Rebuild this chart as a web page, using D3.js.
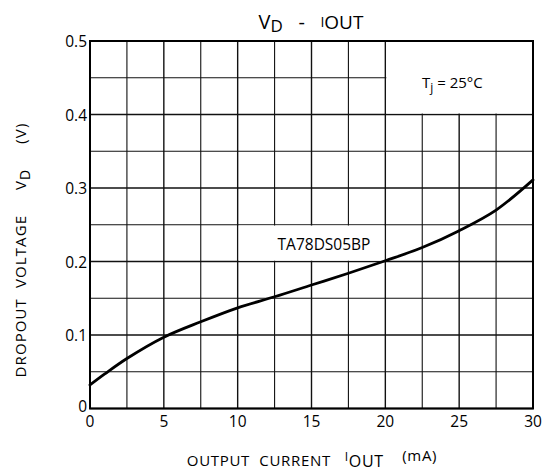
<!DOCTYPE html>
<html><head><meta charset="utf-8">
<script src="https://cdn.jsdelivr.net/npm/d3@7"></script>
<style>
html,body{margin:0;padding:0;background:#fff;}
svg{display:block;font-family:"Open Sans","DejaVu Sans",sans-serif;}
</style></head>
<body>
<svg id="c" width="548" height="475"></svg>
<script>
// ---- data ----
const currentMA = [0, 1, 2.5, 5, 7.5, 10, 12.5, 15, 17.5, 20, 22.5, 25, 27.5, 30];
const dropoutV  = [0.032, 0.047, 0.068, 0.097, 0.118, 0.137, 0.152, 0.168, 0.184, 0.201, 0.219, 0.242, 0.27, 0.311];
const xTicks = [0, 5, 10, 15, 20, 25, 30];
const yTicks = [0, 0.1, 0.2, 0.3, 0.4, 0.5];
const yTickLabels = ["0", "0.1", "0.2", "0.3", "0.4", "0.5"];
const xGrid = d3.range(0, 30.01, 2.5);
const yGrid = d3.range(0, 0.501, 0.05);
const seriesName = "TA78DS05BP";
const condition = "= 25°C";

const svg = d3.select("#c");
const L = 90, R = 533, T = 41, B = 408.5;
const x = d3.scaleLinear().domain([0, 30]).range([L, R]);
const y = d3.scaleLinear().domain([0, 0.5]).range([B, T]);

const g = svg.append("g");
// grid
g.selectAll("line.v").data(xGrid).enter().append("line")
  .attr("x1", d => x(d)).attr("x2", d => x(d)).attr("y1", T).attr("y2", B)
  .attr("stroke", "#111").attr("stroke-width", d => (d % 5 === 0) ? 1.4 : 1.1);
g.selectAll("line.h").data(yGrid).enter().append("line")
  .attr("y1", d => y(d)).attr("y2", d => y(d)).attr("x1", L).attr("x2", R)
  .attr("stroke", "#111").attr("stroke-width", d => (Math.round(d * 100) % 10 === 0) ? 1.4 : 1.1);

// blank cells (label cell and condition box)
g.append("rect").attr("x", x(10) + 1).attr("y", y(0.25) + 0.8)
  .attr("width", x(20) - x(10) - 2).attr("height", y(0.2) - y(0.25) - 1.6).attr("fill", "#fff");
g.append("rect").attr("x", x(20) + 1).attr("y", y(0.5) + 1)
  .attr("width", x(30) - x(20) - 2).attr("height", y(0.4) - y(0.5) - 2).attr("fill", "#fff");

// frame
g.append("rect").attr("x", L).attr("y", T).attr("width", R - L).attr("height", B - T)
  .attr("fill", "none").attr("stroke", "#000").attr("stroke-width", 2);

// curve
const line = d3.line().x(d => x(d[0])).y(d => y(d[1])).curve(d3.curveCatmullRom.alpha(0.5));
g.append("path").datum(currentMA.map((c, i) => [c, dropoutV[i]]))
  .attr("d", line).attr("fill", "none").attr("stroke", "#000").attr("stroke-width", 2.8)
  .attr("stroke-linecap", "round");

// tick labels
svg.selectAll("text.yt").data(yTicks).enter().append("text")
  .attr("x", 87).attr("y", d => d === 0 ? 412 : y(d) + 6)
  .attr("text-anchor", "end").attr("font-size", 15.5).attr("fill", "#000")
  .text((d, i) => yTickLabels[i]);
svg.selectAll("text.xt").data(xTicks).enter().append("text")
  .attr("x", d => x(d)).attr("y", 427)
  .attr("text-anchor", "middle").attr("font-size", 15.5).attr("fill", "#000")
  .text(d => d);

// series label
svg.append("text").attr("x", 324).attr("y", 250)
  .attr("text-anchor", "middle").attr("font-size", 15.5).text(seriesName);

// condition
const tj = svg.append("text").attr("x", 422).attr("y", 88).attr("font-size", 15).attr("fill", "#000");
tj.append("tspan").text("T");
tj.append("tspan").attr("font-size", 12).attr("dy", 4).text("j");
tj.append("tspan").attr("dy", -4).text(" " + condition);

// title
const title = svg.append("text").attr("x", 311).attr("y", 29).attr("text-anchor", "middle")
  .attr("font-size", 20).attr("fill", "#000").attr("xml:space", "preserve");
title.append("tspan").text("V");
title.append("tspan").attr("dy", 3).attr("font-size", 17).text("D");
title.append("tspan").attr("dy", -3).text("   -   ");
title.append("tspan").attr("dy", -2).attr("font-size", 14).text("I");
title.append("tspan").attr("dy", 2).attr("font-size", 19).text("OUT");

// x axis label
const xl = svg.append("text").attr("x", 312).attr("y", 466).attr("text-anchor", "middle")
  .attr("font-size", 15).attr("letter-spacing", 0.7).attr("fill", "#000").attr("xml:space", "preserve");
xl.append("tspan").text("OUTPUT  CURRENT   ");
xl.append("tspan").attr("dy", -5).attr("font-size", 12).text("I");
xl.append("tspan").attr("dy", 6).attr("font-size", 16).text("OUT");
xl.append("tspan").attr("dy", -6).text("    (mA)");

// y axis label
const yl = svg.append("text").attr("transform", "translate(26,250) rotate(-90)")
  .attr("text-anchor", "middle").attr("font-size", 15).attr("letter-spacing", 1.1).attr("fill", "#000")
  .attr("xml:space", "preserve");
yl.append("tspan").text("DROPOUT  VOLTAGE     V");
yl.append("tspan").attr("dy", 4).attr("font-size", 14).text("D");
yl.append("tspan").attr("dy", -4).text("     (V)");
</script>
</body></html>
